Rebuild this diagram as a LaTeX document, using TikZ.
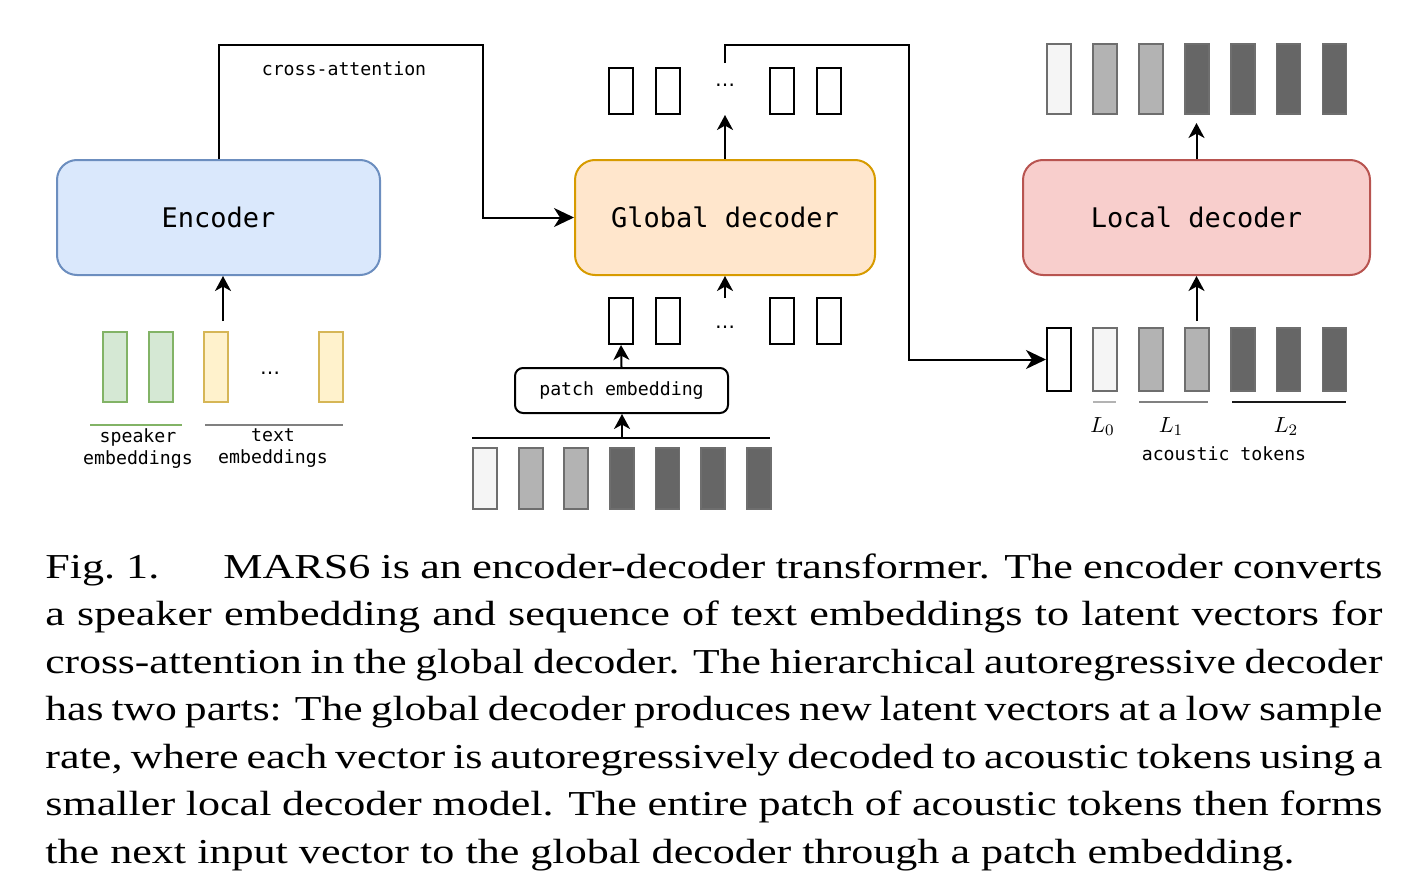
\documentclass[tikz,border=0pt]{standalone}
\usepackage[no-math]{fontspec}
\setmainfont{Liberation Serif}
\newfontfamily\capfont[FakeStretch=1.26]{Liberation Serif}
\newfontfamily\monof{DejaVu Sans Mono}
\newfontfamily\dejasans{DejaVu Sans}
\usetikzlibrary{arrows.meta}
\definecolor{encfill}{HTML}{DAE8FC}
\definecolor{encdraw}{HTML}{6C8EBF}
\definecolor{gdfill}{HTML}{FFE6CC}
\definecolor{gddraw}{HTML}{D79B00}
\definecolor{ldfill}{HTML}{F8CECC}
\definecolor{lddraw}{HTML}{B85450}
\definecolor{spkfill}{HTML}{D5E8D4}
\definecolor{spkdraw}{HTML}{82B366}
\definecolor{txtfill}{HTML}{FFF2CC}
\definecolor{txtdraw}{HTML}{D6B656}
\definecolor{tokA}{HTML}{F5F5F5}
\definecolor{tokB}{HTML}{B3B3B3}
\definecolor{tokC}{HTML}{666666}
\definecolor{tokedge}{HTML}{6E6E6E}
\definecolor{midgray}{HTML}{808080}
\newcommand{\capsetup}{\capfont\fontsize{17.5}{21}\selectfont}
\newcommand{\tightline}[1]{\scalebox{0.988}[1]{\makebox[676.6pt][s]{#1}}}
\begin{document}
\begin{tikzpicture}[x=0.5pt,y=-0.5pt,
  bigbox/.style={draw, line width=1pt, rounded corners=10pt, minimum height=57.5pt, inner sep=0pt, font=\monof\fontsize{13.5}{16}\selectfont},
  lbl/.style={font=\monof\fontsize{9.1}{11}\selectfont, inner sep=0pt, align=center},
  tok/.style={minimum width=12pt, inner sep=0pt, line width=0.9pt, draw=tokedge},
  grect/.style={draw=black, line width=1pt, minimum width=12pt, minimum height=23pt, inner sep=0pt},
  wire/.style={line width=1pt},
  bigarr/.style={wire, -{Stealth[length=10pt,width=9.5pt,inset=3pt]}},
  smallarr/.style={wire, -{Stealth[length=7.5pt,width=8pt,inset=2.2pt]}},
  capline/.style={anchor=base west, inner sep=0pt, font=\capsetup},
  dotsn/.style={font=\dejasans\fontsize{10}{12}\selectfont, inner sep=0pt, anchor=base},
  mathl/.style={font=\fontsize{11}{13}\selectfont, inner sep=0pt, anchor=base}
]
\useasboundingbox (0,0) rectangle (1414,894);

% main boxes
\node[bigbox, fill=encfill, draw=encdraw, minimum width=161.5pt] (enc) at (218.5,217.5) {Encoder};
\node[bigbox, fill=gdfill, draw=gddraw, minimum width=150pt] (gd) at (725,217.5) {Global decoder};
\node[bigbox, fill=ldfill, draw=lddraw, minimum width=173.5pt] (ld) at (1196.5,217.5) {Local decoder};
\node[draw, line width=1pt, rounded corners=4pt, minimum width=106.5pt, minimum height=22.5pt, inner sep=0pt, font=\monof\fontsize{9.1}{11}\selectfont] (pe) at (621.5,390.5) {patch embedding};

% global decoder vectors
\foreach \n/\x in {1/621,2/667.5,3/782,4/828.5} {
  \node[grect] (gt\n) at (\x,91) {};
  \node[grect] (gb\n) at (\x,321) {};
}
\node[dotsn] (gtdots) at (725,86.5) {…};
\node[dotsn] (gbdots) at (725,328.5) {…};

% patch tokens
\foreach \i/\c in {0/tokA,1/tokB,2/tokB,3/tokC,4/tokC,5/tokC,6/tokC}
  \node[tok, fill=\c, minimum height=30.5pt] (pt\i) at ({485+45.6*\i},478.5) {};

% local decoder output tokens
\foreach \i/\c in {0/tokA,1/tokB,2/tokB,3/tokC,4/tokC,5/tokC,6/tokC}
  \node[tok, fill=\c, minimum height=35pt] (lt\i) at ({1059+45.9*\i},79) {};

% local decoder input tokens
\node[grect, minimum height=31.5pt] (lb0) at (1059,359.5) {};
\foreach \i/\c in {1/tokA,2/tokB,3/tokB,4/tokC,5/tokC,6/tokC}
  \node[tok, fill=\c, minimum height=31.5pt] (lb\i) at ({1059+45.9*\i},359.5) {};

% encoder inputs
\node[tok, fill=spkfill, draw=spkdraw, minimum height=35pt] (sp1) at (115,367) {};
\node[tok, fill=spkfill, draw=spkdraw, minimum height=35pt] (sp2) at (161,367) {};
\node[tok, fill=txtfill, draw=txtdraw, minimum height=35pt] (tx1) at (216,367) {};
\node[tok, fill=txtfill, draw=txtdraw, minimum height=35pt] (tx2) at (331,367) {};
\node[dotsn] (txdots) at (270,374.5) {…};

% underlines
\draw[spkdraw, line width=1pt] (90,425) -- (182,425);
\draw[midgray, line width=1pt] (205,425) -- (343,425);
\draw[tokB, line width=1pt] (1093,402) -- (1116,402);
\draw[midgray, line width=1pt] (1139,402) -- (1208,402);
\draw[black!90, line width=1.1pt] (1232,402) -- (1346,402);

% labels
\node[lbl, anchor=base] (catt) at (344,75) {cross-attention};
\node[lbl] (spklbl) at (138,448.5) {speaker\\embeddings};
\node[lbl] (txtlbl) at (273,448.5) {text\\embeddings};
\node[mathl] (l0) at (1102.5,432) {$L_0$};
\node[mathl] (l1) at (1171,432) {$L_1$};
\node[mathl] (l2) at (1286,432) {$L_2$};
\node[lbl, anchor=base] (aclbl) at (1224,460) {acoustic tokens};

% connectors
\coordinate (cabend) at (483,45);
\draw[bigarr] (enc.north) |- (cabend) |- (gd.west);
\coordinate (encin) at (223,321);
\draw[smallarr] (encin) -- (encin |- enc.south);
\coordinate (gdout) at (725,115);
\draw[smallarr] (gd.north) -- (gdout);
\coordinate (fbstart) at (725,63);
\coordinate (fbbend) at (909,45);
\draw[bigarr] (fbstart) |- (fbbend) |- (lb0.west);
\coordinate (gdin) at (725,298);
\draw[smallarr] (gdin) -- (gd.south);
\draw[smallarr] (pe.north) -- (gb1.south);
\coordinate (pel) at (472,438);
\coordinate (per) at (770,438);
\draw[wire] (pel) -- (per);
\coordinate (pein) at (622,438);
\draw[smallarr] (pein) -- (pein |- pe.south);
\coordinate (ldout) at (1196.5,123);
\draw[smallarr] (ld.north) -- (ldout);
\coordinate (ldin) at (1196.5,321);
\draw[smallarr] (ldin) -- (ld.south);

% caption
\node[capline] (cap1) at (45,578) {\makebox[668.5pt][s]{Fig.\hspace{5.5pt}1.\hspace{32pt}MARS6 is an encoder-decoder transformer. The encoder converts}};
\node[capline] (cap2) at (45,625.5) {\makebox[668.5pt][s]{a speaker embedding and sequence of text embeddings to latent vectors for}};
\node[capline] (cap3) at (45,673) {\tightline{cross-attention in the global decoder. The hierarchical autoregressive decoder}};
\node[capline] (cap4) at (45,720.5) {\tightline{has two parts: The global decoder produces new latent vectors at a low sample}};
\node[capline] (cap5) at (45,768) {\makebox[668.5pt][s]{rate, where each vector is autoregressively decoded to acoustic tokens using a}};
\node[capline] (cap6) at (45,815.5) {\makebox[668.5pt][s]{smaller local decoder model. The entire patch of acoustic tokens then forms}};
\node[capline] (cap7) at (45,863) {the next input vector to the global decoder through a patch embedding.};
\end{tikzpicture}
\end{document}
